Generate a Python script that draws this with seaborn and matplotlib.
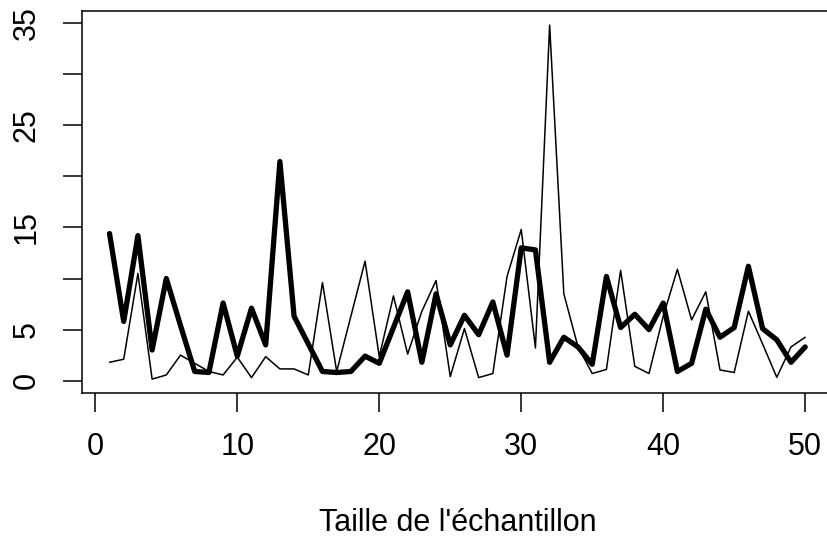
import matplotlib
matplotlib.use("Agg")
import matplotlib.pyplot as plt
import seaborn as sns
import numpy as np
import pandas as pd

# Sample size index
taille = list(range(1, 51))

# Thick series
serie_epaisse = [14.4, 5.8, 14.2, 3.0, 10.0, 5.4, 0.9, 0.8, 7.6, 2.4,
                 7.1, 3.5, 21.45, 6.3, 3.6, 0.9, 0.8, 0.9, 2.4, 1.7,
                 5.2, 8.7, 1.8, 8.5, 3.5, 6.4, 4.5, 7.7, 2.5, 13.0,
                 12.8, 1.8, 4.25, 3.3, 1.6, 10.2, 5.2, 6.5, 5.0, 7.6,
                 0.9, 1.7, 7.0, 4.25, 5.2, 11.2, 5.1, 4.0, 1.8, 3.3]

# Thin series
serie_fine = [1.8, 2.1, 10.5, 0.15, 0.56, 2.5, 1.7, 0.9, 0.56, 2.3,
              0.3, 2.35, 1.15, 1.15, 0.56, 9.6, 0.9, 6.3, 11.7, 2.35,
              8.3, 2.6, 6.8, 9.8, 0.4, 5.1, 0.3, 0.7, 10.2, 14.8,
              3.2, 34.8, 8.5, 3.3, 0.7, 1.1, 10.8, 1.4, 0.7, 6.3,
              10.9, 5.95, 8.7, 1.05, 0.8, 6.8, 3.6, 0.33, 3.3, 4.25]

y_ticks = [0, 5, 10, 15, 20, 25, 30, 35]
y_labels = ["0", "5", "", "15", "", "25", "", "35"]
x_ticks = [0, 10, 20, 30, 40, 50]
x_label = "Taille de l'échantillon"

sns.set_style("ticks")
plt.rcParams["font.family"] = ["Liberation Sans", "DejaVu Sans"]

W, H = 828, 544
fig = plt.figure(figsize=(W / 100, H / 100), dpi=100)
left_px, right_px, top_px, bottom_px = 81.7, 833.0, 11.0, 393.3
ax = fig.add_axes([left_px / W, 1 - bottom_px / H,
                   (right_px - left_px) / W, (bottom_px - top_px) / H])

df = pd.DataFrame({"x": taille, "epaisse": serie_epaisse, "fine": serie_fine})
sns.lineplot(data=df, x="x", y="fine", ax=ax, color="black", linewidth=1.1)
sns.lineplot(data=df, x="x", y="epaisse", ax=ax, color="black", linewidth=3.8)

# R-style 4% range extension
xmin, xmax = min(taille), max(taille)
dx = (xmax - xmin) * 0.04
ax.set_xlim(xmin - dx, xmax + dx)
allv = serie_epaisse + serie_fine
ymin, ymax = min(allv), max(allv)
dy = (ymax - ymin) * 0.04
ax.set_ylim(ymin - dy, ymax + dy)

ax.set_xticks(x_ticks)
ax.set_xticklabels([str(t) for t in x_ticks])
ax.set_yticks(y_ticks)
ax.set_yticklabels(y_labels, rotation=90, va="center")

for s in ax.spines.values():
    s.set_visible(True)
    s.set_linewidth(1.1)
    s.set_color("black")

ax.tick_params(axis="both", length=13.7, width=1.1, color="black",
               labelsize=22, labelcolor="black")
ax.tick_params(axis="x", pad=14)
ax.tick_params(axis="y", pad=15)

ax.set_xlabel(x_label, fontsize=22, labelpad=33, color="black")
ax.set_ylabel("")

fig.savefig("out.png", dpi=100)
